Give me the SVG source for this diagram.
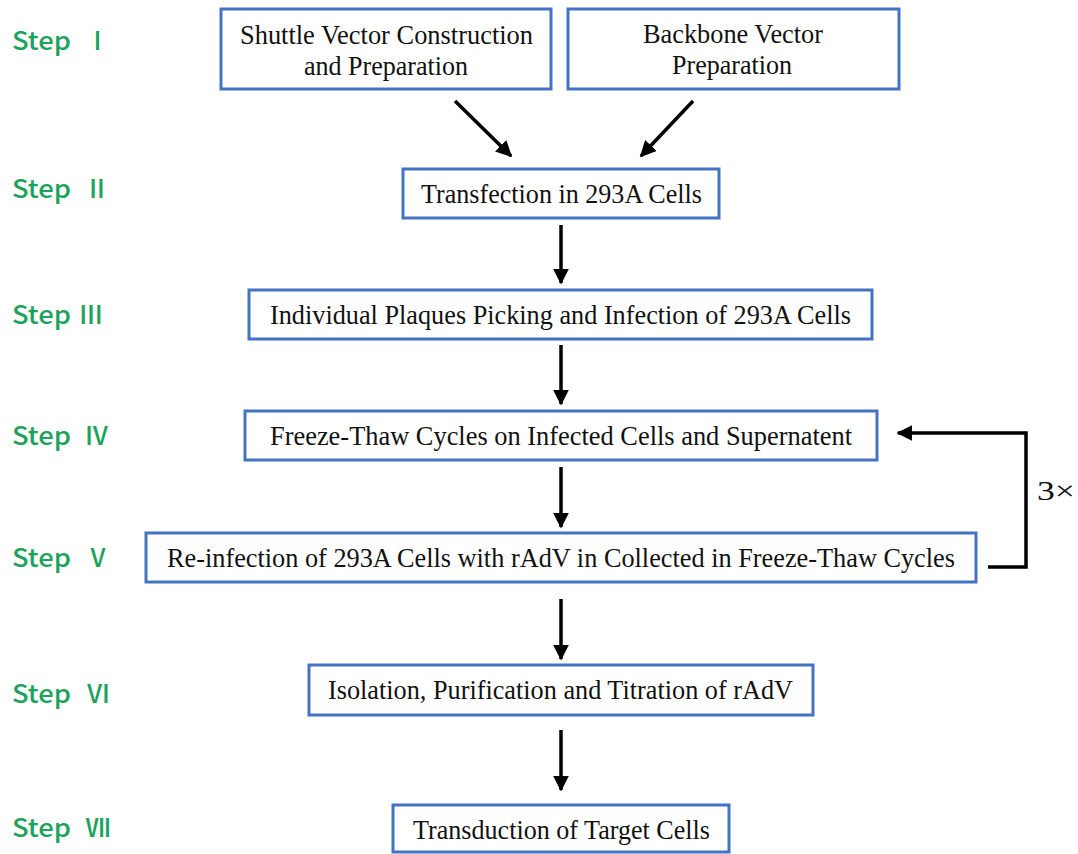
<svg xmlns="http://www.w3.org/2000/svg" width="1078" height="854" viewBox="0 0 1078 854">
<defs>
<marker id="ah" viewBox="0 0 10 10" refX="9" refY="5" markerWidth="4.6" markerHeight="4.6" markerUnits="strokeWidth" orient="auto">
<path d="M0,0 L10,5 L0,10 z" fill="#000"/>
</marker>
</defs>
<style>
.box{fill:#fff;stroke:#4472c4;stroke-width:3}
.t{font-family:"Liberation Serif","Times New Roman",serif;font-size:27px;fill:#111;text-anchor:middle;dominant-baseline:central}
.step{font-family:"Noto Sans CJK SC","Noto Sans",sans-serif;font-size:25px;font-weight:500;fill:#1ba35c}
.num{font-family:"Noto Sans CJK SC","Noto Sans",sans-serif;font-size:25px;font-weight:500;fill:#1ba35c;text-anchor:middle}
.c{fill:none;stroke:#000;stroke-width:3.5}
</style>
<rect width="1078" height="854" fill="#fff"/>
<g id="steps">
<text class="step" x="12" y="50" textLength="59" lengthAdjust="spacingAndGlyphs">Step</text><text class="num" x="97.5" y="50">Ⅰ</text>
<text class="step" x="12" y="198" textLength="59" lengthAdjust="spacingAndGlyphs">Step</text><text class="num" x="97" y="198">Ⅱ</text>
<text class="step" x="12" y="324" textLength="59" lengthAdjust="spacingAndGlyphs">Step</text><text class="num" x="91" y="324">Ⅲ</text>
<text class="step" x="12" y="445" textLength="59" lengthAdjust="spacingAndGlyphs">Step</text><text class="num" x="96.5" y="445">Ⅳ</text>
<text class="step" x="12" y="567" textLength="59" lengthAdjust="spacingAndGlyphs">Step</text><text class="num" x="98" y="567">Ⅴ</text>
<text class="step" x="12" y="703" textLength="59" lengthAdjust="spacingAndGlyphs">Step</text><text class="num" x="98.5" y="703">Ⅵ</text>
<text class="step" x="12" y="837" textLength="59" lengthAdjust="spacingAndGlyphs">Step</text><text class="num" x="98" y="837">Ⅶ</text>
</g>
<g id="n1"><rect class="box" x="221" y="9" width="330" height="80"/><text class="t" x="386.5" y="35" textLength="293" lengthAdjust="spacingAndGlyphs">Shuttle Vector Construction</text><text class="t" x="386" y="66" textLength="164" lengthAdjust="spacingAndGlyphs">and Preparation</text></g>
<g id="n2"><rect class="box" x="568" y="9" width="331" height="80"/><text class="t" x="733" y="34" textLength="180" lengthAdjust="spacingAndGlyphs">Backbone Vector</text><text class="t" x="732" y="65" textLength="120" lengthAdjust="spacingAndGlyphs">Preparation</text></g>
<g id="n3"><rect class="box" x="403" y="169" width="316" height="49"/><text class="t" x="561.5" y="194" textLength="281" lengthAdjust="spacingAndGlyphs">Transfection in 293A Cells</text></g>
<g id="n4"><rect class="box" x="249" y="290" width="623" height="49"/><text class="t" x="560.5" y="315" textLength="581" lengthAdjust="spacingAndGlyphs">Individual Plaques Picking and Infection of 293A Cells</text></g>
<g id="n5"><rect class="box" x="245" y="411" width="632" height="49"/><text class="t" x="561" y="436" textLength="582" lengthAdjust="spacingAndGlyphs">Freeze-Thaw Cycles on Infected Cells and Supernatent</text></g>
<g id="n6"><rect class="box" x="146" y="533" width="830" height="49"/><text class="t" x="561" y="558" textLength="788" lengthAdjust="spacingAndGlyphs">Re-infection of 293A Cells with rAdV in Collected in Freeze-Thaw Cycles</text></g>
<g id="n7"><rect class="box" x="309" y="665" width="504" height="50"/><text class="t" x="560.5" y="690" textLength="465" lengthAdjust="spacingAndGlyphs">Isolation, Purification and Titration of rAdV</text></g>
<g id="n8"><rect class="box" x="393" y="805" width="336" height="47"/><text class="t" x="561.5" y="830" textLength="297" lengthAdjust="spacingAndGlyphs">Transduction of Target Cells</text></g>
<g id="connectors">
<line class="c" x1="455" y1="101" x2="511" y2="156" marker-end="url(#ah)"/>
<line class="c" x1="693" y1="101" x2="641" y2="156" marker-end="url(#ah)"/>
<line class="c" x1="561" y1="225" x2="561" y2="283" marker-end="url(#ah)"/>
<line class="c" x1="561" y1="345" x2="561" y2="404" marker-end="url(#ah)"/>
<line class="c" x1="561" y1="467" x2="561" y2="527" marker-end="url(#ah)"/>
<line class="c" x1="561" y1="599" x2="561" y2="659" marker-end="url(#ah)"/>
<line class="c" x1="561" y1="730" x2="561" y2="790" marker-end="url(#ah)"/>
<polyline class="c" points="988,567 1026,567 1026,433 898,433" marker-end="url(#ah)"/>
<text class="t" x="1056" y="491" textLength="38" lengthAdjust="spacingAndGlyphs">3×</text>
</g>
</svg>
